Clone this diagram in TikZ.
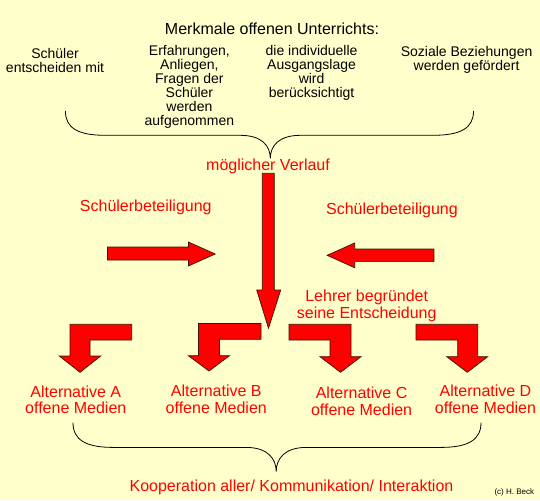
\documentclass[tikz,border=0pt]{standalone}
\usepackage{fontspec}
\setmainfont{Liberation Sans}
\definecolor{bgc}{HTML}{FFFFCC}
\definecolor{arrowred}{HTML}{FF0000}
\definecolor{arrowedge}{HTML}{3A1400}
\begin{document}
\begin{tikzpicture}[x=1pt,y=-1pt,
  blk/.style={font=\fontsize{14}{14}\selectfont, align=center, inner sep=0pt, text=black},
  ttl/.style={font=\fontsize{16}{16}\selectfont, align=center, inner sep=0pt, text=black},
  rd/.style={font=\fontsize{16}{16.5}\selectfont, align=center, inner sep=0pt, text=arrowred},
  bigarrow/.style={fill=arrowred, draw=arrowedge, line width=0.7pt, line join=miter},
  bracepath/.style={draw=black, line width=0.8pt}]
\fill[bgc] (0,0) rectangle (540,500);
\useasboundingbox (0,0) rectangle (540,500);

% top texts
\node[ttl] (title) at (272,29) {Merkmale offenen Unterrichts:};
\node[blk] (m1) at (55,60.2) {Schüler\\entscheiden mit};
\node[blk] (m2) at (189.4,87) {Erfahrungen,\\Anliegen,\\Fragen der\\Schüler\\werden\\aufgenommen};
\node[blk] (m3) at (311.6,72.7) {die individuelle\\Ausgangslage\\wird\\berücksichtigt};
\node[blk] (m4) at (466.6,59.6) {Soziale Beziehungen\\werden gefördert};

% upper brace
\draw[bracepath] (65.4,111) .. controls (65.4,128) and (78,135.3) .. (105,135.3)
  -- (240,135.3) .. controls (262,135.3) and (270.3,146) .. (270.3,158.4)
  .. controls (270.3,146) and (278.6,135.3) .. (300.6,135.3)
  -- (433,135.3) .. controls (461,135.3) and (473.5,128) .. (473.5,111);

\node[rd] (verlauf) at (268,166.3) {möglicher Verlauf};

\node[rd] (sb1) at (145.8,207.5) {Schülerbeteiligung};
\node[rd] (sb2) at (391.9,210.3) {Schülerbeteiligung};

% vertical main arrow
\draw[bigarrow] (262.3,173.3) -- (274.3,173.3) -- (274.3,290) -- (280.7,290)
  -- (268.5,328.3) -- (256.7,290) -- (262.3,290) -- cycle;

% horizontal arrows
\draw[bigarrow] (107.4,247) -- (188.4,247) -- (188.4,242) -- (215.2,254)
  -- (188.4,266) -- (188.4,260) -- (107.4,260) -- cycle;
\draw[bigarrow] (433.9,249) -- (354.7,249) -- (354.7,243) -- (327.1,255.3)
  -- (354.7,267.8) -- (354.7,261.6) -- (433.9,261.6) -- cycle;

\node[rd] (lehrer) at (366.7,306) {Lehrer begründet\\seine Entscheidung};

% bent arrows
\draw[bigarrow] (131.7,324.3) -- (70,324.3) -- (70,356) -- (59.3,356) -- (80,372.3)
  -- (100.7,356) -- (90,356) -- (90,340) -- (131.7,340) -- cycle;
\draw[bigarrow] (261,323.5) -- (198.5,323.5) -- (198.5,355.7) -- (188.3,355.7) -- (209,371)
  -- (229.5,355.7) -- (219.5,355.7) -- (219.5,339.3) -- (261,339.3) -- cycle;
\draw[bigarrow] (289,324.3) -- (351,324.3) -- (351,356.7) -- (361,356.7) -- (340.5,372.3)
  -- (320,356.7) -- (330,356.7) -- (330,340) -- (289,340) -- cycle;
\draw[bigarrow] (416,324.3) -- (477.7,324.3) -- (477.7,356.7) -- (487.7,356.7) -- (467.3,372.3)
  -- (446.7,356.7) -- (457.7,356.7) -- (457.7,340) -- (416,340) -- cycle;

\node[rd] (altA) at (75.8,400) {Alternative A\\offene Medien};
\node[rd] (altB) at (216.3,399.5) {Alternative B\\offene Medien};
\node[rd] (altC) at (361.6,401.4) {Alternative C\\offene Medien};
\node[rd] (altD) at (485.5,399.5) {Alternative D\\offene Medien};

% lower brace
\draw[bracepath] (73,422.6) .. controls (73,440) and (86,447.4) .. (113,447.4)
  -- (246,447.4) .. controls (268,447.4) and (276.2,459) .. (276.2,471.5)
  .. controls (276.2,459) and (284.4,447.4) .. (306.4,447.4)
  -- (441,447.4) .. controls (468,447.4) and (481,440) .. (481,422.6);

\node[rd] (koop) at (291.5,487.7) {Kooperation aller/ Kommunikation/ Interaktion};
\node[font=\fontsize{8}{8}\selectfont, inner sep=0pt, text=black] (copy) at (514.3,492.3) {(c) H. Beck};
\end{tikzpicture}
\end{document}
